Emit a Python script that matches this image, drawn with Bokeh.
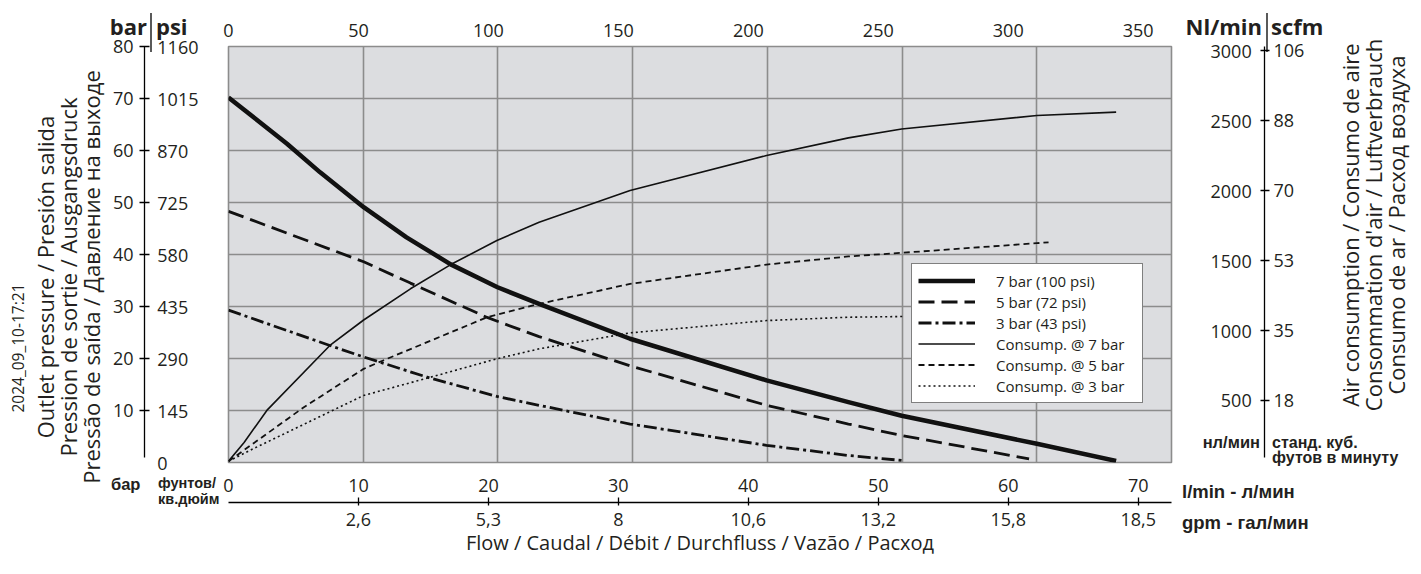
import html
from bokeh.plotting import figure
from bokeh.layouts import column
from bokeh.models import LinearAxis, FixedTicker, Range1d, Legend, LegendItem, Div
from bokeh.embed import file_html
from bokeh.resources import INLINE

# ---------------- data ----------------
# outlet pressure curves (bar) vs flow (l/min)
flow_p7 = [0, 4.5, 7.05, 10.4, 13.7, 17.1, 20.7, 23.9, 30.9, 41.4, 47.7, 51.8, 62.2, 68.3]
pres_p7 = [70.2, 61.3, 55.8, 49.1, 43.3, 38.1, 33.7, 30.5, 23.8, 15.8, 11.6, 9.0, 3.6, 0.3]

flow_p5 = [0, 10.4, 14.0, 19.9, 23.9, 30.9, 41.4, 47.7, 51.8, 61.6]
pres_p5 = [48.3, 38.6, 34.5, 27.9, 24.2, 18.6, 11.0, 7.4, 5.2, 0.7]

flow_p3 = [0, 7.8, 10.4, 15.3, 20.65, 23.9, 30.9, 41.4, 47.7, 51.8]
pres_p3 = [29.3, 22.5, 20.3, 16.4, 12.7, 11.0, 7.4, 3.3, 1.35, 0.4]

# air consumption curves (Nl/min) vs flow (l/min)
flow_c7 = [0, 1.2, 2.95, 7.8, 10.4, 14.0, 17.1, 20.65, 23.9, 30.9, 41.4, 47.7, 51.8, 62.2, 68.3]
cons_c7 = [66, 200, 429, 893, 1075, 1298, 1471, 1643, 1774, 2000, 2250, 2376, 2440, 2536, 2560]

flow_c5 = [0, 5.8, 10.4, 11.9, 19.9, 23.9, 30.9, 41.4, 47.7, 51.8, 62.2, 63.1]
cons_c5 = [66, 452, 726, 786, 1095, 1190, 1333, 1471, 1529, 1555, 1624, 1630]

flow_c3 = [0, 1.9, 10.4, 15.3, 20.65, 23.9, 30.9, 41.4, 47.7, 52.0]
cons_c3 = [66, 155, 536, 660, 798, 869, 983, 1071, 1095, 1100]

series_labels = ["7 bar (100 psi)", "5 bar (72 psi)", "3 bar (43 psi)",
                 "Consump. @ 7 bar", "Consump. @ 5 bar", "Consump. @ 3 bar"]

# axes / tick labels
bar_ticks = [10, 20, 30, 40, 50, 60, 70, 80]
psi_ticks = [0, 10, 20, 30, 40, 50, 60, 70, 80]
psi_labels = ["0", "145", "290", "435", "580", "725", "870", "1015", "1160"]
nl_ticks = [500, 1000, 1500, 2000, 2500, 3000]
nl_labels = ["500", "1000", "1500", "2000", "2500", "3000"]
scfm_labels = ["18", "35", "53", "70", "88", "106"]
lmin_ticks = [0, 10, 20, 30, 40, 50, 60, 70]
gpm_ticks = [10, 20, 30, 40, 50, 60, 70]
gpm_labels = ["2,6", "5,3", "8", "10,6", "13,2", "15,8", "18,5"]
top_ticks = [0, 50, 100, 150, 200, 250, 300, 350]

X_MAX = 72.56          # flow at right edge of the grey area (l/min)
NL_RANGE = (57, 3029)  # right scale extent over the grey area

# ---------------- style ----------------
FONT = "Open Sans"
ARIAL = "Liberation Sans"
TXT = "#231f20"
GRAY = "#dcdde0"
GRID = "#8c8c8c"
FS = "18px"

W, H = 1405, 558
p = figure(width=W, height=H, x_range=Range1d(0, X_MAX), y_range=Range1d(0, 80),
           output_backend="svg", toolbar_location=None,
           x_axis_location=None, y_axis_location=None,
           min_border_left=228, min_border_right=234, min_border_top=46, min_border_bottom=96)
p.extra_x_ranges = {"top": Range1d(0, 5 * X_MAX)}
p.extra_y_ranges = {"nl": Range1d(*NL_RANGE)}
p.background_fill_color = GRAY
p.border_fill_color = "white"
p.outline_line_color = GRID
p.outline_line_width = 1.6

p.xgrid.ticker = FixedTicker(ticks=[X_MAX * k / 7 for k in range(1, 7)])
p.ygrid.ticker = FixedTicker(ticks=bar_ticks[:-1])
for g in (p.xgrid, p.ygrid):
    g.grid_line_color = GRID
    g.grid_line_width = 1.6


def blank_axis(**kw):
    base = dict(axis_line_color=None, major_tick_line_color=None, minor_tick_line_color=None,
                major_tick_in=0, major_tick_out=0, minor_tick_in=0, minor_tick_out=0,
                major_label_text_font=FONT, major_label_text_font_size=FS,
                major_label_text_color=TXT)
    base.update(kw)
    return LinearAxis(**base)


def line_axis(**kw):
    base = dict(axis_line_color="black", axis_line_width=1.3,
                major_tick_line_color="black", major_tick_line_width=1.3,
                minor_tick_line_color=None, minor_tick_in=0, minor_tick_out=0,
                major_label_text_font=FONT, major_label_text_font_size=FS,
                major_label_text_color=TXT)
    base.update(kw)
    return LinearAxis(**base)


FSP = "\u2007"  # figure space (digit width)

# top axis
ax_top = blank_axis(x_range_name="top", ticker=FixedTicker(ticks=top_ticks), major_label_standoff=10)
p.add_layout(ax_top, "above")

# left: psi labels (inner), bar axis with line (outer)
psi_over = {t: FSP + s + FSP * (4 - len(s)) for t, s in zip(psi_ticks, psi_labels)}
ax_psi = blank_axis(ticker=FixedTicker(ticks=psi_ticks), major_label_overrides=psi_over,
                    major_label_standoff=30)
p.add_layout(ax_psi, "left")
ax_bar = line_axis(ticker=FixedTicker(ticks=bar_ticks), bounds=(1, 80),
                   major_tick_in=5, major_tick_out=5, major_label_standoff=6)
p.add_layout(ax_bar, "left")

# right: Nl/min labels (inner), scfm axis with line (outer)
nl_over = {t: FSP * (4 - len(s)) + s + FSP for t, s in zip(nl_ticks, nl_labels)}
ax_nl = blank_axis(y_range_name="nl", ticker=FixedTicker(ticks=nl_ticks),
                   major_label_overrides=nl_over, major_label_standoff=39)
p.add_layout(ax_nl, "right")
ax_scfm = line_axis(y_range_name="nl", ticker=FixedTicker(ticks=nl_ticks), bounds=(93, NL_RANGE[1]),
                    major_label_overrides={t: s for t, s in zip(nl_ticks, scfm_labels)},
                    major_tick_in=4, major_tick_out=5, major_label_standoff=4)
p.add_layout(ax_scfm, "right")

# bottom: l/min labels (inner), gpm axis with line (outer)
ax_lmin = blank_axis(ticker=FixedTicker(ticks=lmin_ticks), major_label_standoff=16,
                     axis_label=" ", axis_label_standoff=0, axis_label_text_font_size="4px")
p.add_layout(ax_lmin, "below")
ax_gpm = line_axis(ticker=FixedTicker(ticks=gpm_ticks),
                   major_label_overrides={t: s for t, s in zip(gpm_ticks, gpm_labels)},
                   major_tick_in=5, major_tick_out=3, major_label_standoff=7,
                   axis_label="Flow / Caudal / Débit / Durchfluss / Vazão / Расход",
                   axis_label_standoff=0, axis_label_text_font=FONT,
                   axis_label_text_font_size="20px", axis_label_text_font_style="normal",
                   axis_label_text_color=TXT)
p.add_layout(ax_gpm, "below")

# ---------------- curves ----------------
r7 = p.line(flow_p7, pres_p7, line_width=4.5, line_color="#111111", line_join="round")
r5 = p.line(flow_p5, pres_p5, line_width=2.8, line_color="#111111", line_dash="16 7")
r3 = p.line(flow_p3, pres_p3, line_width=2.8, line_color="#111111", line_dash="13 4 3 4")
c7 = p.line(flow_c7, cons_c7, y_range_name="nl", line_width=1.6, line_color="#111111", line_join="round")
c5 = p.line(flow_c5, cons_c5, y_range_name="nl", line_width=1.8, line_color="#111111", line_dash="6 4")
c3 = p.line(flow_c3, cons_c3, y_range_name="nl", line_width=1.6, line_color="#111111", line_dash="2 3")

legend = Legend(items=[LegendItem(label=l, renderers=[r]) for l, r in
                       zip(series_labels, [r7, r5, r3, c7, c5, c3])],
                location=(683, 59), orientation="vertical",
                glyph_width=57, glyph_height=21, label_height=21, label_width=140,
                label_standoff=21, padding=6, spacing=0, margin=0,
                border_line_color="black", border_line_width=1.5,
                background_fill_color="white", background_fill_alpha=1.0,
                label_text_font=FONT, label_text_font_size="15px", label_text_color=TXT)
p.add_layout(legend)

# ---------------- overlay: unit headers and titles outside the grey plot area ----------------
parts = []


def txt(s, x, y, size, anchor="start", bold=False, font=FONT, rot=False):
    style = (f"font-family:'{font}';font-size:{size}px;fill:{TXT};"
             f"font-weight:{'bold' if bold else 'normal'};font-style:normal")
    tr = f' transform="rotate(-90 {x} {y})"' if rot else ""
    parts.append(f'<text x="{x}" y="{y}" text-anchor="{anchor}" dominant-baseline="central" '
                 f'style="{style}"{tr}>{html.escape(s)}</text>')


def vline(x, y0, y1):
    parts.append(f'<line x1="{x}" y1="{y0}" x2="{x}" y2="{y1}" stroke="black" stroke-width="1.3"/>')


# separators continuing the two axis lines up through the unit headers
vline(146, 8, 47)
vline(1262, 8, 47)

txt("bar", 142, 21, 22, anchor="end", bold=True)
txt("psi", 151, 21, 22, bold=True)
txt("Nl/min", 1257, 21, 22, anchor="end", bold=True)
txt("scfm", 1266, 21, 22, bold=True)
txt("бар", 106, 479, 16.5, bold=True, font=ARIAL)
txt("фунтов/", 153, 478, 14.5, bold=True, font=ARIAL)
txt("кв.дюйм", 153, 494, 14.5, bold=True, font=ARIAL)
txt("нл/мин", 1255, 437, 16.5, anchor="end", bold=True, font=ARIAL)
txt("станд. куб.", 1267, 437, 16, bold=True, font=ARIAL)
txt("футов в минуту", 1267, 452, 16, bold=True, font=ARIAL)
txt("l/min - л/мин", 1177, 486, 18.5, bold=True, font=ARIAL)
txt("gpm - гал/мин", 1177, 517, 18.5, bold=True, font=ARIAL)

txt("2024_09_10-17:21", 13, 343, 15.5, anchor="middle", rot=True)
left_title = ["Outlet pressure / Presión salida", "Pression de sortie / Ausgangsdruck",
              "Pressão de saída / Давление на выходе"]
for i, s in enumerate(left_title):
    txt(s, 40 + 23 * i, 272, 22, anchor="middle", rot=True)
right_title = ["Air consumption / Consumo de aire", "Consommation d'air / Luftverbrauch",
               "Consumo de ar / Расход воздуха"]
for i, s in enumerate(right_title):
    txt(s, 1345 + 23 * i, 220, 22, anchor="middle", rot=True)

svg = (f'<svg xmlns="http://www.w3.org/2000/svg" width="{W}" height="{H}" '
       f'style="position:absolute;left:0;top:0;overflow:visible">' + "".join(parts) + "</svg>")
ov = Div(text=svg, width=W, height=H,
         styles={"position": "absolute", "left": "0px", "top": "0px", "pointer-events": "none"})

page = column(p, ov)
page.styles = {"position": "relative"}

with open("out.html", "w", encoding="utf-8") as f:
    f.write(file_html(page, INLINE))
